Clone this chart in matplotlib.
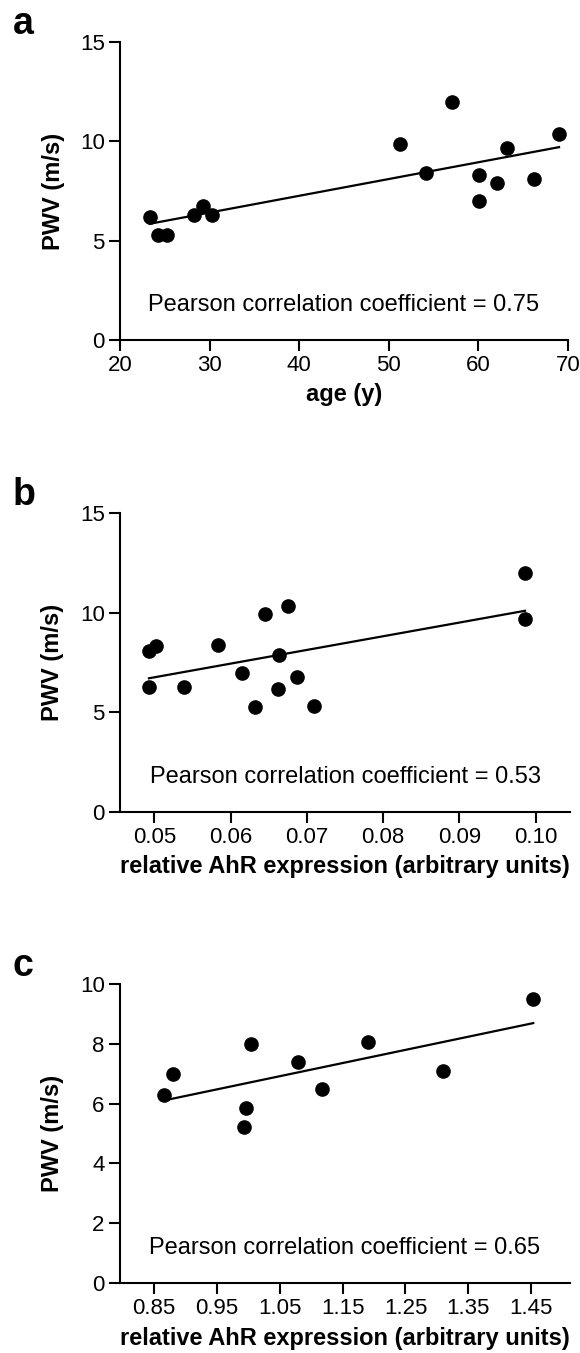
import numpy as np
import matplotlib
matplotlib.use('Agg')
import matplotlib.pyplot as plt

plt.rcParams['font.family'] = ['Liberation Sans', 'DejaVu Sans']

# panel a: age vs PWV
age = [23.3, 24.2, 25.3, 28.3, 29.3, 30.3, 51.2, 54.2, 57.1, 60.1, 60.1, 62.1, 63.2, 66.2, 69.0]
pwv_a = [6.2, 5.28, 5.28, 6.29, 6.76, 6.27, 9.86, 8.39, 12.0, 8.3, 7.0, 7.88, 9.68, 8.09, 10.37]

# panel b: AhR expression vs PWV
ahr_b = [0.0493, 0.0502, 0.0493, 0.0539, 0.0583, 0.0615, 0.0632, 0.0645, 0.0664,
         0.0662, 0.0675, 0.0687, 0.0710, 0.0986, 0.0986]
pwv_b = [8.09, 8.31, 6.28, 6.28, 8.38, 6.97, 5.28, 9.92, 7.89, 6.18, 10.32, 6.77, 5.31, 11.98, 9.68]

# panel c: AhR expression vs PWV
ahr_c = [0.866, 0.881, 1.004, 0.996, 0.994, 1.080, 1.118, 1.190, 1.309, 1.453]
pwv_c = [6.28, 6.99, 8.01, 5.85, 5.22, 7.38, 6.50, 8.07, 7.08, 9.49]

r_labels = ['0.75', '0.53', '0.65']
letters = ['a', 'b', 'c']
xlabels = ['age (y)', 'relative AhR expression (arbitrary units)',
           'relative AhR expression (arbitrary units)']

W, H = 580, 1353
fig = plt.figure(figsize=(W / 100, H / 100), dpi=100)

# axes boxes in pixels: left, right, top, bottom
boxes = [(120, 568, 42, 340), (120, 570, 513, 812), (120, 570, 984, 1283)]
axes = []
for l, r, t, b in boxes:
    axes.append(fig.add_axes([l / W, 1 - b / H, (r - l) / W, (b - t) / H]))

data = [(age, pwv_a), (ahr_b, pwv_b), (ahr_c, pwv_c)]
xlims = [(20, 70), (0.0455, 0.1045), (0.7965, 1.5114)]
ylims = [(0, 15), (0, 15), (0, 10)]
xticks = [[20, 30, 40, 50, 60, 70],
          [0.05, 0.06, 0.07, 0.08, 0.09, 0.10],
          [0.85, 0.95, 1.05, 1.15, 1.25, 1.35, 1.45]]
xfmt = ['{:.0f}', '{:.2f}', '{:.2f}']
yticks = [[0, 5, 10, 15], [0, 5, 10, 15], [0, 2, 4, 6, 8, 10]]

for i, ax in enumerate(axes):
    x, y = np.array(data[i][0]), np.array(data[i][1])
    ax.plot(x, y, 'o', color='black', ms=9.5, clip_on=False, zorder=3)
    k, c = np.polyfit(x, y, 1)
    xs = np.array([x.min(), x.max()])
    ax.plot(xs, k * xs + c, color='black', lw=1.6)

    ax.set_xlim(*xlims[i])
    ax.set_ylim(*ylims[i])
    ax.set_xticks(xticks[i])
    ax.set_xticklabels([xfmt[i].format(v) for v in xticks[i]])
    ax.set_yticks(yticks[i])
    for s in ['top', 'right']:
        ax.spines[s].set_visible(False)
    for s in ['left', 'bottom']:
        ax.spines[s].set_linewidth(1.5)
    ax.tick_params(width=1.5, length=8, labelsize=16, pad=3)
    ax.set_xlabel(xlabels[i], fontsize=17, fontweight='bold', va='center')
    ax.xaxis.set_label_coords(0.5, -55 / (boxes[i][3] - boxes[i][2]))
    ax.set_ylabel('PWV (m/s)', fontsize=17, fontweight='bold', va='center')
    ax.yaxis.set_label_coords((53 - 120) / 450, 0.5)
    ax.text(0.5, 0.117, 'Pearson correlation coefficient = ' + r_labels[i],
            transform=ax.transAxes, ha='center', va='center', fontsize=17)
    t = boxes[i][2]
    fig.text(13 / W, 1 - (t - 8) / H, letters[i], fontsize=27,
             fontweight='bold', ha='left', va='baseline')

fig.savefig('out.png', dpi=100)
